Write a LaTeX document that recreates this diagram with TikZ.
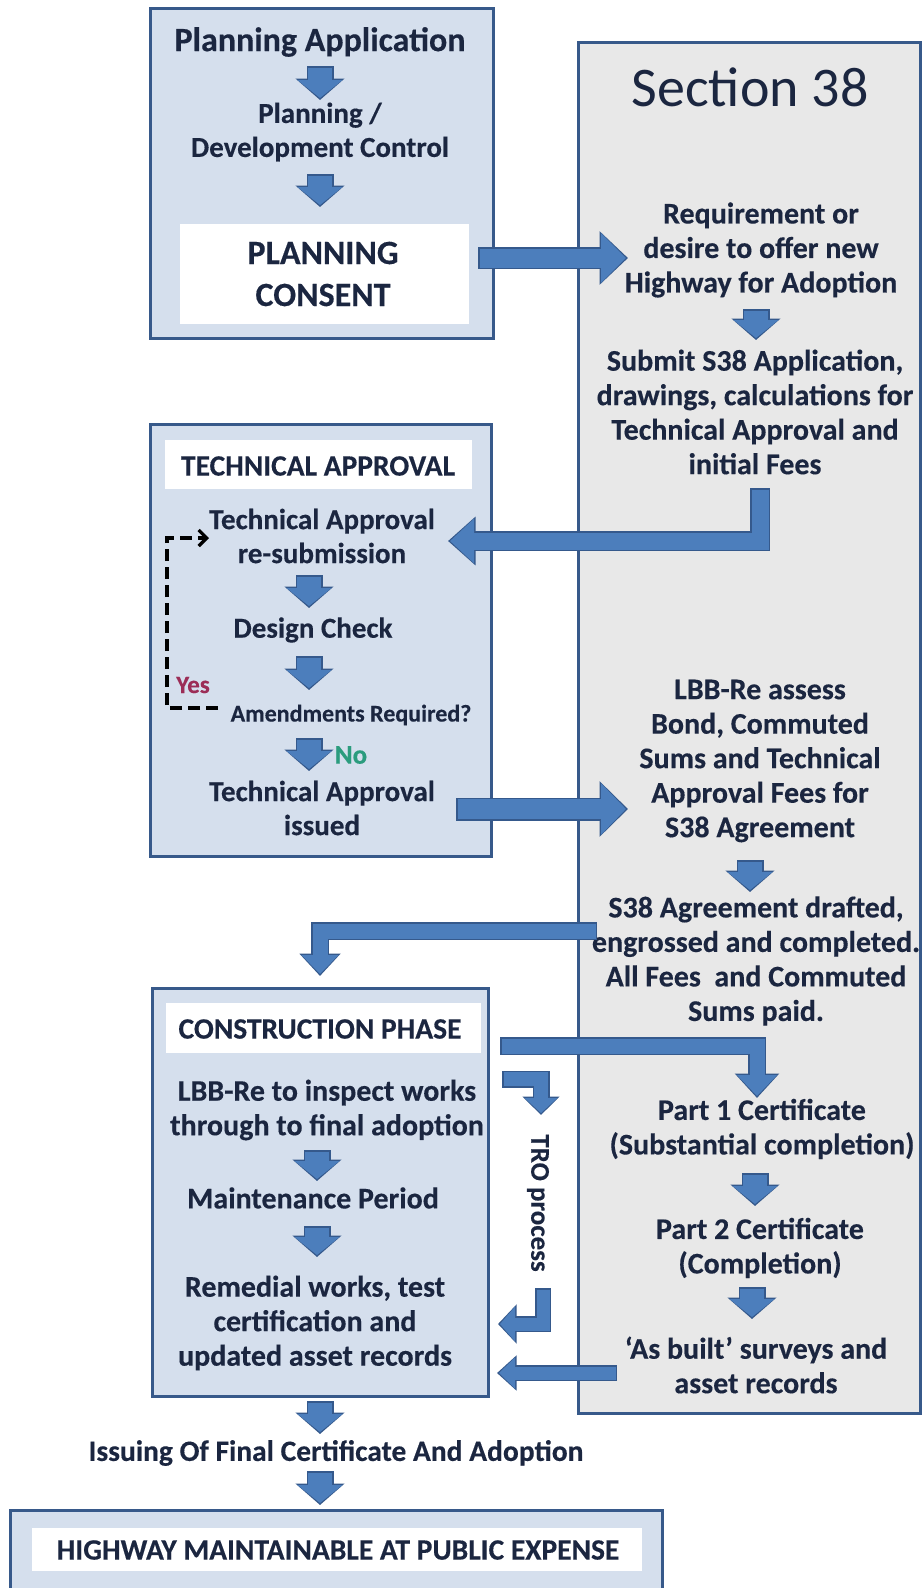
\documentclass[tikz,border=0pt]{standalone}
\usepackage{fontspec}
\setmainfont{Carlito}[BoldFeatures={FakeBold=0.3}]
\usetikzlibrary{arrows.meta}
\definecolor{bluefill}{HTML}{D5DFED}
\definecolor{grayfill}{HTML}{E8E8E8}
\definecolor{boxline}{HTML}{37598A}
\definecolor{arrowfill}{HTML}{4C7EBC}
\definecolor{arrowline}{HTML}{35598C}
\definecolor{txt}{HTML}{1B2640}
\definecolor{yescol}{HTML}{9C2D57}
\definecolor{nocol}{HTML}{2B9C7E}
% block arrow: shaft width, tip length, tip width, path
\newcommand{\barr}[4]{%
  \pgfmathsetmacro{\bsa}{#1+3}%
  \pgfmathsetmacro{\bla}{#2+3.5}%
  \pgfmathsetmacro{\bwa}{#3+4}%
  \draw[draw=arrowline, line width=\bsa pt, line join=miter, -{Triangle[length=\bla pt, width=\bwa pt]}] #4;
  \draw[draw=arrowfill, line width=#1pt, line join=miter, shorten >=2pt, shorten <=1.5pt, -{Triangle[length=#2pt, width=#3pt]}] #4;}
\begin{document}
\begin{tikzpicture}[x=1pt,y=-1pt,
  panel/.style={draw=boxline, line width=3pt},
  lbl/.style={text=txt, font=\bfseries\fontsize{30}{34.5}\selectfont, align=center, inner sep=0pt},
  hdr/.style={lbl, font=\bfseries\fontsize{29.5}{33}\selectfont},
  big/.style={lbl, font=\bfseries\fontsize{34}{42}\selectfont}]
\useasboundingbox (0,0) rectangle (923,1588);
\fill[white] (0,0) rectangle (923,1588);
\begin{scope}
\clip (0,0) rectangle (923,1588);
% ---------- Planning box
\draw[panel, fill=bluefill] (150,8) rectangle (493,338);
\node[big] (pa) at (320,42) {Planning Application};
\barr{24}{18}{44}{(320,66) -- (320,100)}
\node[lbl, font=\bfseries\fontsize{29}{34}\selectfont] (pdc) at (320,132) {Planning /\\Development Control};
\barr{24}{18}{44}{(320,174) -- (320,207)}
\fill[white] (180,224) rectangle (469,324);
\node[big] (pc) at (323,274) {PLANNING\\CONSENT};
% ---------- Section 38 panel
\draw[panel, fill=grayfill] (578,42) rectangle (920,1413);
\node[text=txt, inner sep=0pt, font=\fontsize{56}{60}\selectfont] (s38) at (750,87) {Section 38};
\node[lbl] (req) at (761,250) {Requirement or\\desire to offer new\\Highway for Adoption};
\barr{19}{25}{48}{(478,258) -- (628,258)}
\barr{24}{18}{44}{(756,309) -- (756,340)}
\node[lbl] (sub) at (755,412) {Submit S38 Application,\\drawings, calculations for\\Technical Approval and\\initial Fees};
% ---------- Technical approval box
\draw[panel, fill=bluefill] (150,424) rectangle (491,856);
\fill[white] (165,440) rectangle (472,489);
\node[hdr] (tah) at (318,466) {TECHNICAL APPROVAL};
\node[lbl, font=\bfseries\fontsize{29}{34}\selectfont] (tar) at (322,536) {Technical Approval\\re-submission};
\barr{17}{24}{43}{(760,488) -- (760,541) -- (448,541)}
\barr{24}{18}{44}{(309,575) -- (309,608)}
\node[lbl, font=\bfseries\fontsize{29}{34}\selectfont] (dc) at (313,630) {Design Check};
\barr{24}{18}{44}{(309,656) -- (309,690)}
\node[lbl, font=\bfseries\fontsize{24}{28}\selectfont] (amr) at (351,715) {Amendments Required?};
\node[lbl, text=yescol, font=\bfseries\fontsize{25}{28}\selectfont] (yes) at (193,685) {Yes};
\draw[black, line width=3.2pt, dash pattern=on 12pt off 6pt, line join=miter, -{Straight Barb[length=8pt, width=16pt]}] (218,708) -- (167,708) -- (167,538) -- (209,538);
\barr{24}{18}{44}{(309,738) -- (309,771)}
\node[lbl, text=nocol, font=\bfseries\fontsize{27}{30}\selectfont] (no) at (351,755) {No};
\node[lbl, font=\bfseries\fontsize{29}{34}\selectfont] (tai) at (322,808) {Technical Approval\\issued};
\barr{20}{25}{50}{(456,809) -- (628,809)}
\node[lbl] (lbb) at (760,761) {LBB-Re assess\\Bond, Commuted\\Sums and Technical\\Approval Fees for\\S38 Agreement};
\barr{24}{18}{44}{(750,860) -- (750,892)}
\node[lbl] (agr) at (756,961) {S38 Agreement drafted,\\engrossed and completed.\\All Fees~ and Commuted\\Sums paid.};
\barr{15}{19}{36}{(597,931) -- (320,931) -- (320,976)}
% ---------- Construction box
\draw[panel, fill=bluefill] (152,988) rectangle (488,1396);
\fill[white] (166,1003) rectangle (481,1053);
\node[hdr] (cph) at (320,1029) {CONSTRUCTION PHASE};
\node[lbl] (insp) at (327,1110) {LBB-Re to inspect works\\through to final adoption};
\barr{24}{18}{44}{(317,1150) -- (317,1181)}
\node[lbl] (mp) at (313,1198) {Maintenance Period};
\barr{24}{18}{44}{(317,1226) -- (317,1257)}
\node[lbl] (rem) at (315,1323) {Remedial works, test\\certification and\\updated asset records};
\barr{15}{21}{39}{(500,1046) -- (757,1046) -- (757,1098)}
\barr{14}{15}{32}{(502,1079) -- (541,1079) -- (541,1115)}
\node[lbl, rotate=-90, font=\bfseries\fontsize{27}{30}\selectfont] (tro) at (538,1203) {TRO process};
\barr{13}{15}{34}{(543,1288) -- (543,1324) -- (498,1324)}
\node[lbl] (p1) at (762,1129) {Part 1 Certificate\\(Substantial completion)};
\barr{24}{18}{44}{(755,1173) -- (755,1206)}
\node[lbl] (p2) at (760,1248) {Part 2 Certificate\\(Completion)};
\barr{24}{18}{44}{(752,1287) -- (752,1319)}
\node[lbl] (asb) at (756,1365) {‘As built’ surveys and\\asset records};
\barr{13}{16}{30}{(617,1373) -- (497,1373)}
% ---------- Final
\barr{24}{18}{44}{(320,1401) -- (320,1434)}
\node[lbl, font=\bfseries\fontsize{29.5}{33}\selectfont] (fin) at (336,1453) {Issuing Of Final Certificate And Adoption};
\barr{24}{18}{44}{(320,1471) -- (320,1505)}
\draw[panel, fill=bluefill] (10,1510) rectangle (662,1610);
\fill[white] (32,1528) rectangle (642,1571);
\node[hdr] (hw) at (338,1550) {HIGHWAY MAINTAINABLE AT PUBLIC EXPENSE};
\end{scope}
\end{tikzpicture}
\end{document}
